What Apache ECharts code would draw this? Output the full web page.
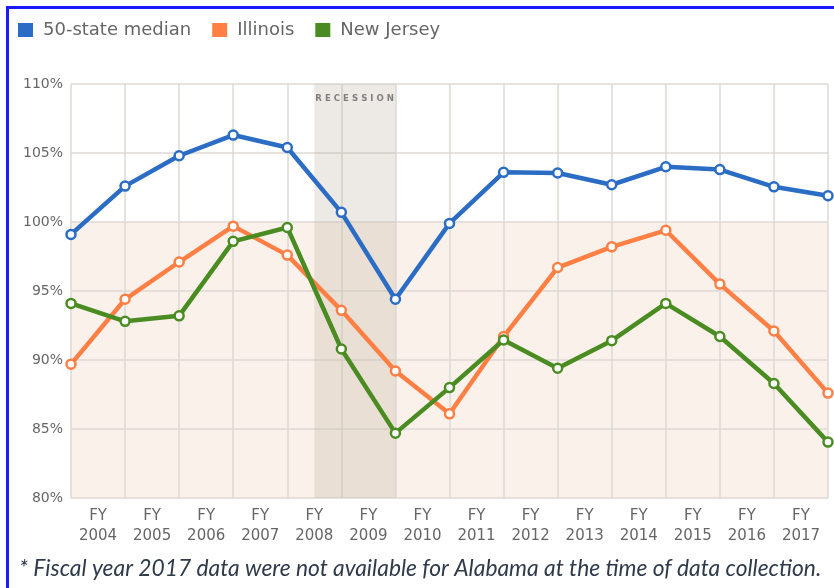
<!DOCTYPE html>
<html>
<head>
<meta charset="utf-8">
<script src="https://cdn.jsdelivr.net/npm/echarts@6.0.0/dist/echarts.min.js"></script>
<style>
  html, body { margin: 0; padding: 0; background: #fff; }
  #chart { width: 834px; height: 588px; }
</style>
</head>
<body>
<div id="chart"></div>
<script>
    // point i sits on gridline i; year labels sit in the bands between them
    const pointIndex = [0, 1, 2, 3, 4, 5, 6, 7, 8, 9, 10, 11, 12, 13, 14];
    const yearLabels = ["FY\n2004", "FY\n2005", "FY\n2006", "FY\n2007", "FY\n2008", "FY\n2009", "FY\n2010",
        "FY\n2011", "FY\n2012", "FY\n2013", "FY\n2014", "FY\n2015", "FY\n2016", "FY\n2017"];

    const medianValues = [99.1, 102.6, 104.8, 106.3, 105.4, 100.7, 94.4, 99.9, 103.6, 103.55, 102.7, 104.0, 103.8, 102.55, 101.9];
    const illinoisValues = [89.7, 94.4, 97.1, 99.7, 97.6, 93.6, 89.2, 86.1, 91.7, 96.7, 98.2, 99.4, 95.5, 92.1, 87.6];
    const newJerseyValues = [94.1, 92.8, 93.2, 98.6, 99.6, 90.8, 84.7, 88.0, 91.45, 89.4, 91.4, 94.1, 91.7, 88.3, 84.05];

    const recession = [4.5, 6];
    const yTicks = { min: 80, max: 110, step: 5 };

    const seriesDefs = [
        { name: "50-state median", color: "#2b6cc4", data: medianValues },
        { name: "Illinois", color: "#ff7f45", data: illinoisValues },
        { name: "New Jersey", color: "#4a8c22", data: newJerseyValues }
    ];

    const chart = echarts.init(document.getElementById("chart"), null, { renderer: "canvas" });

    const series = seriesDefs.map((def, index) => ({
        name: def.name,
        type: "line",
        xAxisIndex: 0,
        data: def.data.map((v, i) => [pointIndex[i], v]),
        symbol: "circle",
        symbolSize: 9,
        showAllSymbol: true,
        lineStyle: { color: def.color, width: 4.5 },
        itemStyle: { color: "#fff", borderColor: def.color, borderWidth: 2.5 },
        z: 3 + index,
        markArea: index === 0
            ? {
                silent: true,
                itemStyle: { color: "rgba(185, 172, 150, 0.25)" },
                label: { show: false },
                data: [[
                    { xAxis: recession[0], yAxis: yTicks.max },
                    { xAxis: recession[1], yAxis: yTicks.min }
                ]]
            }
            : undefined,
        markPoint: index === 0
            ? {
                silent: true,
                symbol: "rect",
                symbolSize: 0,
                label: {
                    show: true,
                    position: "right",
                    distance: 1,
                    offset: [0, 15],
                    formatter: "R E C E S S I O N",
                    fontSize: 8.6,
                    fontWeight: "bold",
                    color: "#808080",
                    fontFamily: "DejaVu Sans"
                },
                data: [{ coord: [recession[0], yTicks.max] }]
            }
            : undefined
    }));

    chart.setOption({
        animation: false,
        backgroundColor: "#fff",
        color: seriesDefs.map((def) => def.color),
        textStyle: { fontFamily: "DejaVu Sans, sans-serif" },
        graphic: [
            { type: "rect", shape: { x: 6, y: 6, width: 830, height: 3 }, style: { fill: "#1a1aff" } },
            { type: "rect", shape: { x: 6, y: 6, width: 3, height: 590 }, style: { fill: "#1a1aff" } },
            {
                type: "text",
                left: 19,
                top: 557,
                style: {
                    text: "* Fiscal year 2017 data were not available for Alabama at the time of data collection.",
                    font: "italic 22.8px Lato",
                    fill: "#2f3a4a"
                }
            }
        ],
        legend: {
            left: 13,
            top: 16,
            itemWidth: 15,
            itemHeight: 14,
            itemGap: 21,
            icon: "rect",
            textStyle: { color: "#666", fontSize: 18, fontFamily: "DejaVu Sans", padding: [0, 0, 0, 5] },
            data: seriesDefs.map((def) => ({ name: def.name, itemStyle: { color: def.color, borderWidth: 0 } }))
        },
        grid: { left: 71, right: 6, top: 84, bottom: 90 },
        xAxis: [
            {
                type: "value",
                min: 0,
                max: 14,
                interval: 1,
                axisLine: { show: false },
                axisTick: { show: false },
                axisLabel: { show: false },
                splitLine: { show: true, lineStyle: { color: "#dcd8d4", width: 1.5 } }
            },
            {
                type: "category",
                data: yearLabels,
                boundaryGap: true,
                position: "bottom",
                axisLine: { show: false },
                axisTick: { show: false },
                splitLine: { show: false },
                axisLabel: {
                    color: "#666",
                    fontSize: 15,
                    lineHeight: 20,
                    margin: 8,
                    interval: 0,
                    fontFamily: "DejaVu Sans"
                }
            }
        ],
        yAxis: {
            type: "value",
            min: yTicks.min,
            max: yTicks.max,
            interval: yTicks.step,
            axisLine: { show: false },
            axisTick: { show: false },
            axisLabel: {
                color: "#666",
                fontSize: 14,
                margin: 8,
                fontFamily: "DejaVu Sans",
                formatter: "{value}%"
            },
            splitLine: { show: true, lineStyle: { color: "#dcd8d4", width: 1.5 } },
            splitArea: {
                show: true,
                areaStyle: { color: ["#faf1ea", "#faf1ea", "#faf1ea", "#faf1ea", "#ffffff", "#ffffff"] }
            }
        },
        series
    });
</script>
</body>
</html>
